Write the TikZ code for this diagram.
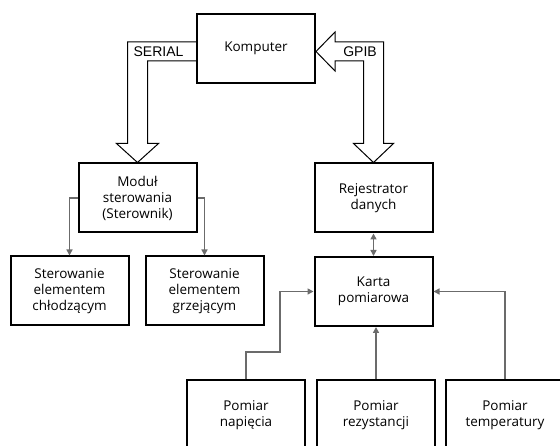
\documentclass[tikz,border=0pt]{standalone}
\usepackage{fontspec}
\setmainfont{Open Sans}
\newfontfamily\linkfont{Liberation Sans}
\usetikzlibrary{positioning,calc,arrows.meta}
\definecolor{grln}{gray}{0.42}
\tikzset{
  blk/.style={draw, line width=2pt, minimum width=118pt, minimum height=69pt, inner sep=2pt, align=center, font=\fontsize{13.5}{16}\selectfont},
  lnk/.style={draw=grln, line width=1.5pt, >={Triangle[width=6pt,length=6pt]}, ->},
  fat/.style={draw, line width=1pt, line join=miter},
  bus/.style={font=\linkfont\fontsize{14}{16}\selectfont, inner sep=0pt}}

\begin{document}
\begin{tikzpicture}[x=1pt, y=-1pt]
\useasboundingbox (0,0) rectangle (560,446);
\clip (0,0) rectangle (560,446);
\node[blk] (komp) at (256,48.5) {Komputer};
\node[blk] (modul) at (137.5,198) {Moduł\\sterowania\\(Sterownik)};
\node[blk] (rej) at (373.5,198) {Rejestrator\\danych};
\node[blk] (karta) at (373.5,291.5) {Karta\\pomiarowa};
\node[blk] (chlo) at (69.5,291) {Sterowanie\\elementem\\chłodzącym};
\node[blk, right=15pt of chlo] (grze) {Sterowanie\\elementem\\grzejącym};
\node[blk] (nap) at (246,415) {Pomiar\\napięcia};
\node[blk, right=10pt of nap] (rez) {Pomiar\\rezystancji};
\node[blk, right=9pt of rez] (temp) {Pomiar\\temperatury};
% wide arrows of the two buses
\draw[fat] ($(komp.west)+(0,-6.5)$) -| ($(modul.north)+(-10,-19)$) -- ++(-11,0) -- (modul.north) -- ++(21,-19) -- ++(-11,0) |- ($(komp.west)+(0,12.5)$);
\draw[fat] ($(komp.east)+(0,3)$) -- ++(19,-19.5) -- ++(0,10) -| ($(rej.north)+(10,-19)$) -- ++(10,0) -- (rej.north) -- ++(-20,-19) -- ++(10,0) |- ($(komp.east)+(19,12.5)$) -- ++(0,10) -- cycle;
\node[bus] (ser) at (158.5,52) {SERIAL};
\node[bus] (gpib) at (360,52) {GPIB};
% signal lines
\draw[lnk] (modul.west) -| (chlo.north);
\draw[lnk] (modul.east) -| (grze.north);
\draw[lnk, <->] (rej) -- (karta);
\coordinate (zag) at (280,352);
\draw[lnk] (nap.north) |- (zag) |- (karta.west);
\draw[lnk] (rez.north) -- (rez.north |- karta.south);
\draw[lnk] (temp.north) |- (karta.east);
\end{tikzpicture}
\end{document}
